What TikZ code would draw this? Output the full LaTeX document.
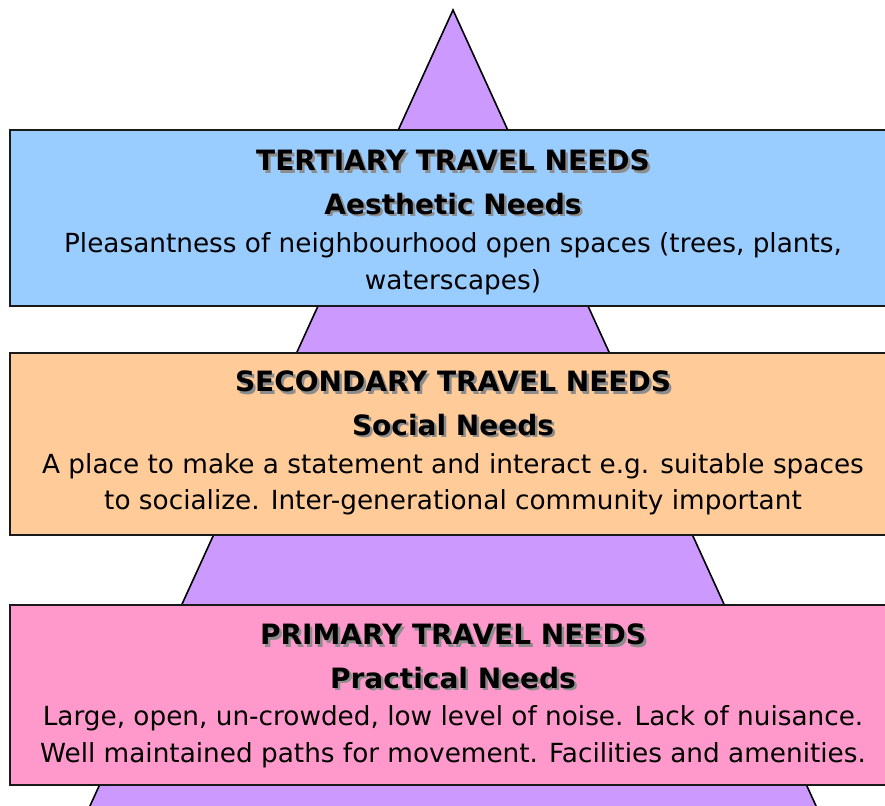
\documentclass[tikz,border=0pt]{standalone}
\usepackage{fontspec}
\setmainfont{DejaVu Sans}
\definecolor{tricol}{HTML}{CC99FF}
\definecolor{bluecol}{HTML}{99CCFF}
\definecolor{orangecol}{HTML}{FFCC99}
\definecolor{pinkcol}{HTML}{FF99CC}
\newcommand{\shadowedtitle}[1]{{\color{black!45}\rlap{\kern2.5pt\raisebox{-2.5pt}{#1}}}#1}
\tikzset{
  layerbox/.style={draw=black!90, line width=1.8pt},
  titletext/.style={font=\fontsize{28}{32}\selectfont\bfseries, text=black, inner sep=0pt},
  bodytext/.style={font=\fontsize{26.3}{36.5}\selectfont, align=center, inner sep=0pt, text=black},
}
\begin{document}
\begin{tikzpicture}[x=1pt,y=-1pt]
\useasboundingbox (0,0) rectangle (885,805);
\clip (0,0) rectangle (885,805);
\fill[white] (0,0) rectangle (885,805);
% pyramid
\coordinate (apex) at (453,10);
\coordinate (bl) at (79,830);
\coordinate (br) at (827,830);
\draw[line width=1.6pt, fill=tricol] (apex) -- (br) -- (bl) -- cycle;
% boxes
\draw[layerbox, fill=bluecol] (10,130) rectangle (905,306);
\draw[layerbox, fill=orangecol] (10,353) rectangle (905,535);
\draw[layerbox, fill=pinkcol] (10,605) rectangle (905,785);
% tertiary
\node[titletext] (t1) at (453,162) {\shadowedtitle{TERTIARY TRAVEL NEEDS}};
\node[titletext] (a1) at (453,205) {\shadowedtitle{Aesthetic Needs}};
\node[bodytext] (b1) at (453,263.5) {Pleasantness of neighbourhood open spaces (trees, plants,\\waterscapes)};
% secondary
\node[titletext] (t2) at (453,383) {\shadowedtitle{SECONDARY TRAVEL NEEDS}};
\node[titletext] (a2) at (453,426) {\shadowedtitle{Social Needs}};
\node[bodytext] (b2) at (453,484) {A place to make a statement and interact e.g. suitable spaces\\to socialize. Inter-generational community important};
% primary
\node[titletext] (t3) at (453,636) {\shadowedtitle{PRIMARY TRAVEL NEEDS}};
\node[titletext] (a3) at (453,679) {\shadowedtitle{Practical Needs}};
\node[bodytext] (b3) at (453,736.5) {Large, open, un-crowded, low level of noise. Lack of nuisance.\\Well maintained paths for movement. Facilities and amenities.};
\end{tikzpicture}
\end{document}
